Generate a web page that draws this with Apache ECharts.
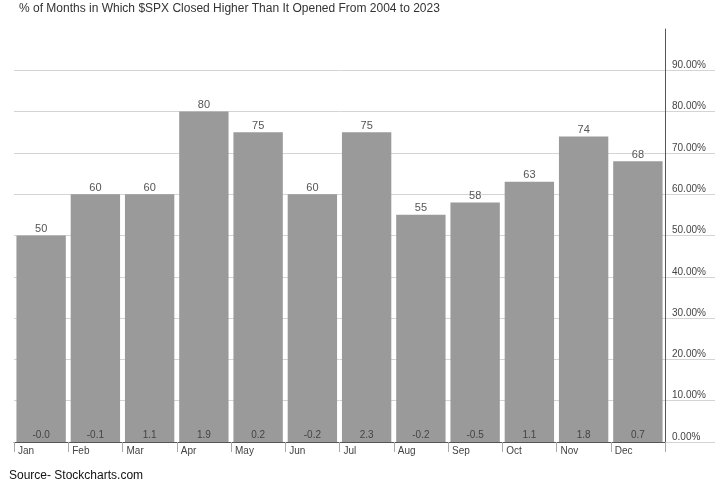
<!DOCTYPE html>
<html><head><meta charset="utf-8">
<script src="https://cdn.jsdelivr.net/npm/echarts@6/dist/echarts.min.js"></script>
<style>html,body{margin:0;padding:0;background:#fff}#c{width:720px;height:485px}</style>
</head><body><div id="c"></div>
<script>
const months = ['Jan','Feb','Mar','Apr','May','Jun','Jul','Aug','Sep','Oct','Nov','Dec'];
const pctHigher = [50, 60, 60, 80, 75, 60, 75, 55, 58, 63, 74, 68];
const avgReturn = ['-0.0','-0.1','1.1','1.9','0.2','-0.2','2.3','-0.2','-0.5','1.1','1.8','0.7'];

const gridColors = ['#d4d4d4','#d4d4d4','#d4d4d4','#d4d4d4','#d4d4d4','#d4d4d4','#d4d4d4','#d4d4d4','#d4d4d4','#d4d4d4','rgba(0,0,0,0)'];

const chart = echarts.init(document.getElementById('c'));
chart.setOption({
  animation: false,
  title: [
    {text: '% of Months in Which $SPX Closed Higher Than It Opened From 2004 to 2023', left: 14, top: -2,
     textStyle: {fontFamily: 'Liberation Sans Narrow, Liberation Sans, Arial', fontSize: 12, fontWeight: 'normal', color: '#333'}},
    {text: 'Source- Stockcharts.com', left: 4, top: 465,
     textStyle: {fontFamily: 'Liberation Sans, Arial', fontSize: 12, fontWeight: 'normal', color: '#111'}}
  ],
  grid: [
    {left: 14, right: 55, top: 29, bottom: 43},
    {left: 665, right: 5, top: 29, bottom: 43}
  ],
  xAxis: [
    {type: 'category', gridIndex: 0, data: months, show: false},
    {type: 'category', gridIndex: 0, data: months.concat(['']), boundaryGap: false, position: 'bottom',
     axisLine: {show: true, lineStyle: {color: '#555', width: 1}},
     axisTick: {show: true, interval: 0, length: 10, lineStyle: {color: '#aaa'}},
     axisLabel: {interval: 0, align: 'left', margin: 4, padding: [0,0,0,4], fontFamily: 'Liberation Sans, Arial', fontSize: 10, color: '#444'}},
    {type: 'value', gridIndex: 1, min: 0, max: 1, show: false}
  ],
  yAxis: [
    {type: 'value', gridIndex: 0, position: 'right', min: 0, max: 100, interval: 10,
     axisLine: {show: true, lineStyle: {color: '#555', width: 1}},
     axisTick: {show: false},
     splitLine: {show: true, lineStyle: {color: gridColors}},
     axisLabel: {show: true, margin: 7, verticalAlign: 'bottom', fontFamily: 'Liberation Sans, Arial', fontSize: 10, color: '#444',
       formatter: v => v >= 100 ? '' : v.toFixed(2) + '%'}},
    {type: 'value', gridIndex: 1, min: 0, max: 100, interval: 10,
     axisLine: {show: false}, axisTick: {show: false}, axisLabel: {show: false},
     splitLine: {show: true, lineStyle: {color: gridColors}}}
  ],
  series: [
    {type: 'bar', xAxisIndex: 0, yAxisIndex: 0, data: pctHigher, barCategoryGap: '9%',
     itemStyle: {color: '#9a9a9a'},
     label: {show: true, position: 'top', distance: 1, fontFamily: 'Liberation Sans, Arial', fontSize: 11, color: '#555'}},
    {type: 'bar', xAxisIndex: 0, yAxisIndex: 0, data: pctHigher, barGap: '-100%', barCategoryGap: '9%',
     itemStyle: {color: 'rgba(0,0,0,0)'},
     label: {show: true, position: 'insideBottom', distance: 2, fontFamily: 'Liberation Sans, Arial', fontSize: 10, color: '#444',
       formatter: p => avgReturn[p.dataIndex]}}
  ]
});
</script></body></html>
